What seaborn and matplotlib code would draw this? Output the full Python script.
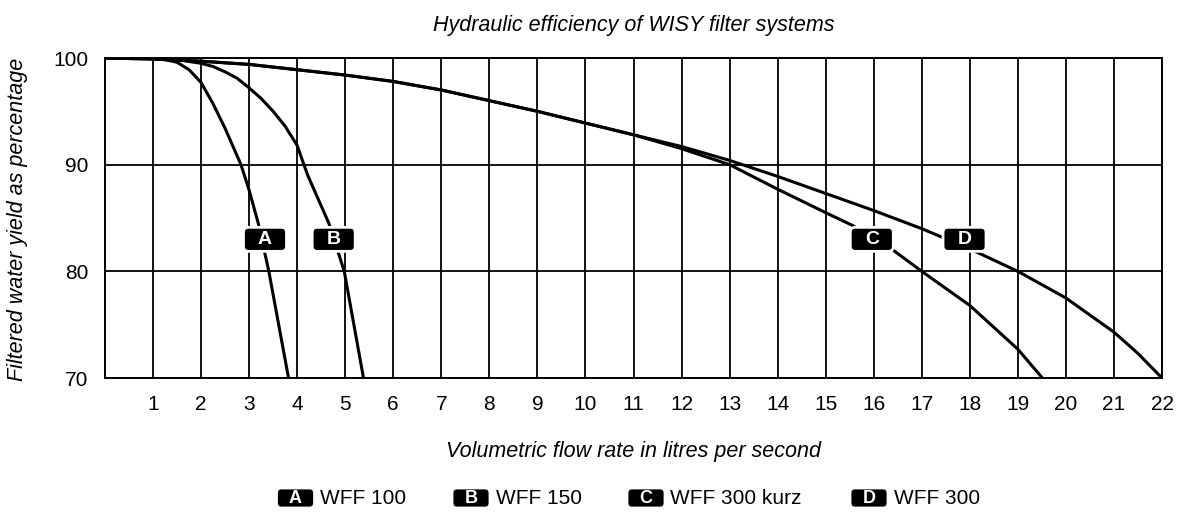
import matplotlib
matplotlib.use("Agg")
import matplotlib.pyplot as plt
import matplotlib.transforms as mtransforms
from matplotlib.patches import FancyBboxPatch
import seaborn as sns
import pandas as pd

# values (flow in l/s, yield in %)
flow_a = [0, 1.0, 1.25, 1.5, 1.75, 2.0, 2.25, 2.5, 2.83, 3.0, 3.19, 3.41, 3.82]
yield_a = [100, 99.95, 99.85, 99.6, 98.9, 97.7, 95.7, 93.4, 90.0, 87.6, 84.5, 80.0, 70.0]

flow_b = [0, 1.0, 1.5, 2.0, 2.25, 2.5, 2.75, 3.0, 3.25, 3.5, 3.75, 4.0, 4.14,
          4.22, 4.66, 4.98, 5.38]
yield_b = [100, 99.95, 99.85, 99.5, 99.2, 98.7, 98.1, 97.2, 96.2, 95.0, 93.6,
           91.8, 90.0, 89.0, 84.5, 80.0, 70.0]

flow_c = [0, 1, 2, 3, 4, 5, 6, 7, 8, 9, 10, 11, 12, 13, 14, 15, 15.56,
          16.4, 17, 18, 19, 19.51]
yield_c = [100, 99.9, 99.7, 99.4, 98.9, 98.4, 97.8, 97.0, 96.0, 95.0, 93.9, 92.8,
           91.5, 90.0, 87.7, 85.5, 84.3, 82.0, 80.0, 76.8, 72.7, 70.0]

flow_d = [0, 1, 2, 3, 4, 5, 6, 7, 8, 9, 10, 11, 12, 13, 14, 15, 16, 17, 18, 19,
          20, 21, 21.5, 22]
yield_d = [100, 99.9, 99.7, 99.4, 98.9, 98.4, 97.8, 97.0, 96.0, 95.0, 93.9, 92.8,
           91.7, 90.4, 88.9, 87.3, 85.7, 84.0, 82.1, 80.0, 77.5, 74.3, 72.3, 70.0]

letters = ["A", "B", "C", "D"]
names = ["WFF 100", "WFF 150", "WFF 300 kurz", "WFF 300"]
tag_x = [3.33, 4.76, 15.96, 17.89]
tag_y = [83.0, 83.0, 83.0, 83.0]

x_ticks = list(range(1, 23))
y_ticks = [70, 80, 90, 100]

df = pd.concat([
    pd.DataFrame({"flow": f, "yield": y, "filter": l})
    for f, y, l in zip([flow_a, flow_b, flow_c, flow_d],
                       [yield_a, yield_b, yield_c, yield_d], letters)
])

sns.set_theme(style="white")
plt.rcParams["font.family"] = ["Liberation Sans", "DejaVu Sans"]
plt.rcParams["text.color"] = "black"

W, H = 1177, 512
fig, ax = plt.subplots(figsize=(W / 100, H / 100), dpi=100)
fig.subplots_adjust(left=105 / W, right=1162 / W, top=1 - 58 / H, bottom=1 - 378 / H)

sns.lineplot(data=df, x="flow", y="yield", hue="filter", palette=["black"] * 4,
             estimator=None, sort=False, legend=False, linewidth=2.2, ax=ax, zorder=3)

ax.set_xlim(0, 22)
ax.set_ylim(70, 100)
ax.set_xticks(x_ticks)
ax.set_yticks(y_ticks)
ax.tick_params(length=0, labelsize=15, colors="black", pad=12)
ax.grid(True, color="black", linewidth=1.3)
for s in ax.spines.values():
    s.set_color("black")
    s.set_linewidth(1.4)
ax.set_xlabel("")
ax.set_ylabel("")

fig.text(633.5 / W, 1 - 25 / H, "Hydraulic efficiency of WISY filter systems",
         ha="center", va="center", fontsize=15.5, style="italic")
fig.text(633.5 / W, 1 - 452 / H, "Volumetric flow rate in litres per second",
         ha="center", va="center", fontsize=15.5, style="italic")
fig.text(18 / W, 1 - 219 / H, "Filtered water yield as percentage", rotation=90,
         ha="center", va="center", fontsize=15.5, style="italic")


def tag(x, y, letter, trans, w, h, size):
    off = fig.dpi_scale_trans + mtransforms.ScaledTranslation(x, y, trans)
    box = FancyBboxPatch((-w / 2, -h / 2), w, h,
                         boxstyle="round,pad=0,rounding_size=0.05",
                         fc="black", ec="white", lw=2.0, transform=off, zorder=6)
    fig.add_artist(box)
    fig.text(0, -0.005, letter, transform=off, ha="center", va="center",
             color="white", fontweight="bold", fontsize=size, zorder=7)


for x, y, l in zip(tag_x, tag_y, letters):
    tag(x, y, l, ax.transData, 0.43, 0.24, 14)

# legend row under the chart
legend_box_x = [295.5, 471, 646, 869]
for bx, l, n in zip(legend_box_x, letters, names):
    tag(bx / W, 1 - 498 / H, l, fig.transFigure, 0.38, 0.20, 13)
    fig.text((bx + 24.5) / W, 1 - 499 / H, n, ha="left", va="center", fontsize=15)

fig.savefig("out.png", dpi=100)
